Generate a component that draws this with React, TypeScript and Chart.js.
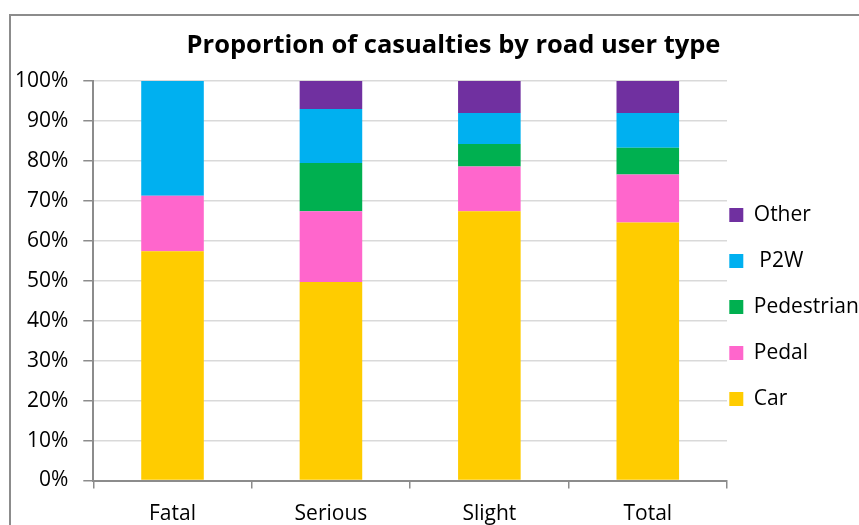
import React, { useEffect, useRef } from 'react';
import { Chart, registerables } from 'chart.js';

Chart.register(...registerables);

const categories = ['Fatal', 'Serious', 'Slight', 'Total'];
const carValues = [57.4, 49.7, 67.4, 64.6];
const pedalValues = [13.9, 17.7, 11.2, 12.0];
const pedestrianValues = [0, 12.1, 5.6, 6.7];
const p2wValues = [28.7, 13.5, 7.8, 8.7];
const otherValues = [0, 7.0, 8.0, 8.0];
const seriesNames = ['Car', 'Pedal', 'Pedestrian', ' P2W', 'Other'];
const seriesColors = ['#FFCC00', '#FF66CC', '#00B050', '#00B0F0', '#7030A0'];
const yMin = 0;
const yMax = 100;
const yStep = 10;
const titleText = 'Proportion of casualties by road user type';

const FONT = "'Open Sans', 'DejaVu Sans', sans-serif";
const AXIS_GRAY = '#8c8c8c';

export default function App() {
  const ref = useRef<HTMLCanvasElement>(null);

  useEffect(() => {
    const canvas = ref.current;
    if (!canvas) return;
    const seriesValues = [carValues, pedalValues, pedestrianValues, p2wValues, otherValues];

    const boxShift = {
      id: 'boxShift',
      afterLayout(chart: any) {
        const L = chart.legend;
        if (L) {
          L.left = 704.3;
          L.top = 179.5;
        }
        const T = chart.titleBlock;
        if (T) {
          T.left = 40;
          T.right = 867;
        }
      },
    };

    const chart = new Chart(canvas, {
      type: 'bar',
      data: {
        labels: categories,
        datasets: seriesValues.map((vals, i) => ({
          label: seriesNames[i],
          data: vals,
          backgroundColor: seriesColors[i],
          borderWidth: 0,
          categoryPercentage: 1,
          barPercentage: 0.395,
        })),
      },
      options: {
        responsive: false,
        animation: false,
        devicePixelRatio: 1,
        layout: { padding: { left: 0, right: 0, top: 0, bottom: 0 } },
        plugins: {
          title: {
            display: true,
            text: titleText,
            color: '#000',
            font: { family: FONT, size: 25.5, weight: 'bold', lineHeight: 1.2 },
            padding: { top: 30.2, bottom: 20.2 },
          },
          legend: {
            display: true,
            position: 'right',
            align: 'start',
            reverse: true,
            maxWidth: 140,
            labels: {
              color: '#000',
              font: { family: FONT, size: 21 },
              boxWidth: 14,
              boxHeight: 14,
              padding: 25,
            },
          },
          tooltip: { enabled: false },
        },
        scales: {
          x: {
            stacked: true,
            grid: {
              drawOnChartArea: false,
              drawTicks: true,
              tickLength: 8,
              tickColor: AXIS_GRAY,
              lineWidth: 1.5,
              offset: true,
            },
            border: { display: true, color: AXIS_GRAY, width: 2 },
            ticks: {
              color: '#000',
              font: { family: FONT, size: 21 },
              padding: 13,
              maxRotation: 0,
              autoSkip: false,
            },
            afterFit: (scale: any) => {
              scale.height = 44.5;
            },
          },
          y: {
            stacked: true,
            min: yMin,
            max: yMax,
            grid: {
              color: '#d9d9d9',
              lineWidth: 1.5,
              tickColor: AXIS_GRAY,
              tickLength: 10,
              drawTicks: true,
            },
            border: { display: true, color: AXIS_GRAY, width: 2 },
            ticks: {
              stepSize: yStep,
              color: '#000',
              font: { family: FONT, size: 21 },
              padding: 15,
              callback: (v: any) => `${v}%`,
            },
            afterFit: (scale: any) => {
              scale.width = 93.3;
            },
          },
        },
      },
      plugins: [boxShift],
    });

    return () => chart.destroy();
  }, []);

  return (
    <div
      style={{
        position: 'absolute',
        left: 0,
        top: 0,
        width: 859,
        height: 525,
        overflow: 'hidden',
        background: '#fff',
      }}
    >
      <div
        style={{
          position: 'absolute',
          left: 9,
          top: 14,
          width: 1000,
          height: 1000,
          borderLeft: `2px solid ${AXIS_GRAY}`,
          borderTop: `2px solid ${AXIS_GRAY}`,
        }}
      />
      <canvas
        ref={ref}
        width={867}
        height={525}
        style={{ position: 'absolute', left: 0, top: 0, width: 867, height: 525 }}
      />
    </div>
  );
}
